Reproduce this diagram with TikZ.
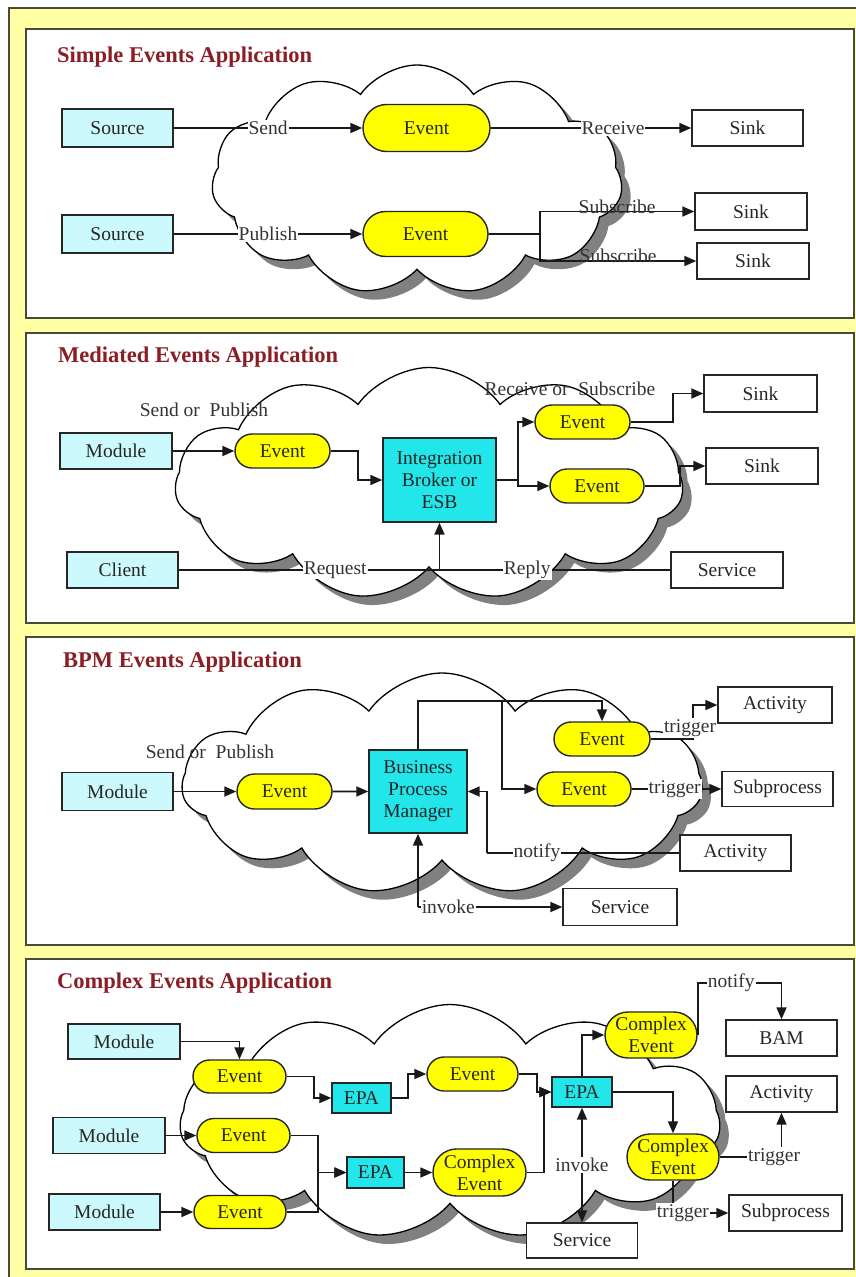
\documentclass[tikz,border=0pt]{standalone}
\usepackage{fontspec}
\setmainfont{Liberation Serif}
\usetikzlibrary{shapes.misc,shapes.symbols,arrows.meta,shadows}
\definecolor{bgyel}{HTML}{FFFFA4}
\definecolor{lcyan}{HTML}{CCFAFC}
\definecolor{ccyan}{HTML}{22E6EA}
\definecolor{evyel}{HTML}{FFFF00}
\definecolor{ttlred}{HTML}{8B1E24}
\definecolor{pbord}{HTML}{4A4A3A}
\newcommand{\mytxt}{\fontsize{19.5}{22}\selectfont}
\newcommand{\myttl}{\fontsize{22.5}{26}\selectfont\bfseries}
\tikzset{
 base/.style={draw=black!85, line width=1.4pt, font=\mytxt, text=black!85, inner sep=0pt, align=center},
 lbox/.style={base, rectangle, fill=lcyan},
 sbox/.style={base, rectangle, fill=white},
 cbox/.style={base, rectangle, fill=ccyan},
 evt/.style={base, rounded rectangle, fill=evyel},
 lbl/.style={font=\mytxt, fill=white, inner sep=1pt, text=black!80},
 ulbl/.style={font=\mytxt, inner sep=0pt, anchor=south, yshift=-3pt, text=black!80},
 free/.style={font=\mytxt, inner sep=0pt, text=black!80},
 arr/.style={line width=1.8pt, draw=black!90, -{Triangle[length=12pt,width=10pt]}},
 ln/.style={line width=1.8pt, draw=black!90},
 arrb/.style={line width=1.8pt, draw=black!90, {Triangle[length=12pt,width=10pt]}-{Triangle[length=12pt,width=10pt]}},
 ttl/.style={font=\myttl, text=ttlred, anchor=base west, inner sep=0pt},
 cld/.style={cloud, cloud puffs=11, cloud puff arc=110, draw=black, line width=1.3pt, fill=white, inner sep=0pt,
   drop shadow={shadow xshift=9pt, shadow yshift=-9pt, fill=black!50, opacity=1}},
 panel/.style={draw=pbord, line width=2pt, fill=white},
}
\begin{document}
\begin{tikzpicture}[x=1pt,y=-1pt]
\useasboundingbox (0,0) rectangle (856,1277);
\fill[white] (0,0) rectangle (856,1277);
\fill[bgyel] (9,8) rectangle (856,1277);
\draw[pbord, line width=2pt] (9,1277) -- (9,8) -- (856,8);
\draw[panel] (26,29) rectangle (854,318);
\draw[panel] (26,333) rectangle (854,623);
\draw[panel] (26,637) rectangle (854,945);
\draw[panel] (26,959) rectangle (854,1269);

% ---------------- Panel 1
\node[ttl] (t1) at (57,62) {Simple Events Application};
\node[cld, minimum width=411pt, minimum height=230pt, aspect=1.79] (cl1) at (417,180) {};
\node[lbox, minimum width=111pt, minimum height=38pt] (src1) at (117.5,128) {Source};
\node[lbox, minimum width=111pt, minimum height=38pt] (src2) at (117.5,234) {Source};
\node[evt, minimum width=127pt, minimum height=47pt] (ev1) at (426.5,128) {Event};
\node[evt, minimum width=125pt, minimum height=45pt] (ev2) at (425.5,234) {Event};
\node[sbox, minimum width=111pt, minimum height=36pt] (sk1) at (747.5,128) {Sink};
\node[sbox, minimum width=112pt, minimum height=37pt] (sk2) at (751,211.5) {Sink};
\node[sbox, minimum width=112pt, minimum height=36pt] (sk3) at (753,261) {Sink};
\coordinate (j1) at (540,234);
\draw[arr] (src1) -- node[lbl]{Send} (ev1);
\draw[arr] (ev1) -- node[lbl, pos=0.61]{Receive} (sk1);
\draw[arr] (src2) -- node[lbl]{Publish} (ev2);
\draw[ln] (ev2) -- (j1);
\draw[arr] (j1) |- node[ulbl, pos=0.75]{Subscribe} (sk2);
\draw[arr] (j1) |- node[ulbl, pos=0.75]{Subscribe} (sk3);

% ---------------- Panel 2
\node[ttl] (t2) at (58,362) {Mediated Events Application};
\node[cld, minimum width=508pt, minimum height=233pt, aspect=2.18] (cl2) at (429,484) {};
\node[free] (sp2) at (204,410) {Send or\enspace Publish};
\node[free] (rs2) at (570,389) {Receive or\enspace Subscribe};
\node[lbox, minimum width=112pt, minimum height=36pt] (mod2) at (116,451) {Module};
\node[evt, minimum width=95pt, minimum height=34pt] (evm) at (282.5,451) {Event};
\node[cbox, minimum width=113pt, minimum height=84pt] (brk) at (439.5,480) {Integration\\Broker or\\ESB};
\node[evt, minimum width=95pt, minimum height=34pt] (evr1) at (582.5,422) {Event};
\node[evt, minimum width=94pt, minimum height=34pt] (evr2) at (597,486) {Event};
\node[sbox, minimum width=113pt, minimum height=37pt] (skm1) at (760.5,393.5) {Sink};
\node[sbox, minimum width=112pt, minimum height=36pt] (skm2) at (762,466) {Sink};
\node[lbox, minimum width=111pt, minimum height=36pt] (cli) at (122.5,570) {Client};
\node[sbox, minimum width=112pt, minimum height=36pt] (srv2) at (727,570) {Service};
\coordinate (jm) at (439.5,570);
\draw[arr] (mod2) -- (evm);
\draw[arr] (evm.east) -- ++(27,0) |- (brk.west);
\draw[arr] (brk.east) -- ++(21,0) |- (evr1.west);
\draw[arr] (brk.east) -- ++(21,0) |- (evr2.west);
\draw[arr] (evr1.east) -- ++(42,0) |- (skm1.west);
\draw[arr] (evr2.east) -- ++(35,0) |- (skm2.west);
\draw[ln] (cli) -- node[lbl, pos=0.6]{Request} (jm);
\draw[ln] (srv2) -- node[lbl, pos=0.62]{Reply} (jm);
\draw[arr] (jm) -- (brk.south);

% ---------------- Panel 3
\node[ttl] (t3) at (63,667) {BPM Events Application};
\node[cld, minimum width=520pt, minimum height=222pt, aspect=2.34] (cl3) at (442,784) {};
\node[free] (sp3) at (210,752) {Send or\enspace Publish};
\node[lbox, minimum width=111pt, minimum height=38pt] (mod3) at (117.5,791.5) {Module};
\node[evt, minimum width=95pt, minimum height=35pt] (evb) at (284.5,791.5) {Event};
\node[cbox, minimum width=98pt, minimum height=83pt] (bpm) at (418,791.5) {Business\\Process\\Manager};
\node[evt, minimum width=96pt, minimum height=34pt] (evA) at (602,739) {Event};
\node[evt, minimum width=94pt, minimum height=34pt] (evB) at (584,789) {Event};
\node[sbox, minimum width=114pt, minimum height=36pt] (act1) at (775,705) {Activity};
\node[sbox, minimum width=111pt, minimum height=35pt] (subp) at (777.5,789) {Subprocess};
\node[sbox, minimum width=111pt, minimum height=36pt] (act2) at (735.5,853) {Activity};
\node[sbox, minimum width=114pt, minimum height=37pt] (srv3) at (620,907) {Service};
\coordinate (nj) at (487,853);
\coordinate (ij) at (418,907);
\draw[arr] (mod3) -- (evb);
\draw[arr] (evb) -- (bpm);
\draw[arr] (bpm.north) -- ++(0,-48) -| (evA.north);
\draw[arr] (bpm.north) -- ++(0,-48) -- ++(84,0) |- (evB.west);
\draw[arr] (evA.east) -- ++(42,0) |- (act1.west);
\node[lbl] (tgA) at (690,728) {trigger};
\draw[arr] (evB) -- node[lbl, pos=0.48]{trigger} (subp);
\draw[ln] (act2) -- node[lbl, pos=0.74]{notify} (nj);
\draw[arr] (nj) |- (bpm.east);
\draw[arr] (ij) -- (bpm.south);
\draw[arr] (ij) -- node[lbl, pos=0.21]{invoke} (srv3);

% ---------------- Panel 4
\node[ttl] (t4) at (57,988) {Complex Events Application};
\node[cld, minimum width=540pt, minimum height=235pt, aspect=2.3] (cl4) at (450,1122) {};
\node[lbox, minimum width=112pt, minimum height=35pt] (m41) at (124,1041.5) {Module};
\node[lbox, minimum width=112pt, minimum height=36pt] (m42) at (109,1135.5) {Module};
\node[lbox, minimum width=111pt, minimum height=36pt] (m43) at (104.5,1212) {Module};
\node[evt, minimum width=93pt, minimum height=33pt] (e41) at (239.5,1076.5) {Event};
\node[evt, minimum width=93pt, minimum height=34pt] (e42) at (243.5,1135.5) {Event};
\node[evt, minimum width=92pt, minimum height=33pt] (e43) at (240,1212) {Event};
\node[cbox, minimum width=59pt, minimum height=30pt] (epa1) at (361.5,1098) {EPA};
\node[cbox, minimum width=57pt, minimum height=31pt] (epa2) at (375.5,1172.5) {EPA};
\node[evt, minimum width=91pt, minimum height=34pt] (e44) at (472.5,1074) {Event};
\node[evt, minimum width=93pt, minimum height=47pt] (ce1) at (479.5,1172.5) {Complex\\Event};
\node[cbox, minimum width=60pt, minimum height=30pt] (epa3) at (582,1092) {EPA};
\node[evt, minimum width=92pt, minimum height=46pt] (ce2) at (651,1035) {Complex\\Event};
\node[evt, minimum width=92pt, minimum height=46pt] (ce3) at (673,1157) {Complex\\Event};
\node[sbox, minimum width=111pt, minimum height=36pt] (bam) at (781.5,1038) {BAM};
\node[sbox, minimum width=111pt, minimum height=36pt] (act4) at (781.5,1094) {Activity};
\node[sbox, minimum width=113pt, minimum height=36pt] (subp4) at (785.5,1213) {Subprocess};
\node[sbox, minimum width=111pt, minimum height=35pt] (srv4) at (582,1240.5) {Service};
\draw[arr] (m41.east) -| (e41.north);
\draw[arr] (m42) -- (e42);
\draw[arr] (m43) -- (e43);
\draw[arr] (e41.east) -- ++(27,0) |- (epa1.west);
\draw[arr] (e42.east) -- ++(27,0) |- (epa2.west);
\draw[arr] (e43.east) -- ++(31,0) |- (epa2.west);
\draw[arr] (epa1.east) -- ++(16,0) |- (e44.west);
\draw[arr] (epa2) -- (ce1);
\draw[arr] (e44.east) -- ++(18,0) |- (epa3.west);
\draw[arr] (ce1.east) -- ++(17,0) |- (epa3.west);
\draw[arr] (epa3.north) |- (ce2.west);
\draw[arr] (ce2.east) -- ++(0,-52) -| node[lbl, pos=0.2]{notify} (bam.north);
\draw[arr] (epa3.east) -| (ce3.north);
\draw[arr] (ce3.east) -| node[lbl, pos=0.44]{trigger} (act4.south);
\draw[arr] (ce3.south) |- node[lbl, pos=0.59]{trigger} (subp4.west);
\draw[arrb] (srv4.north) -- node[lbl]{invoke} (epa3.south);
\end{tikzpicture}
\end{document}
